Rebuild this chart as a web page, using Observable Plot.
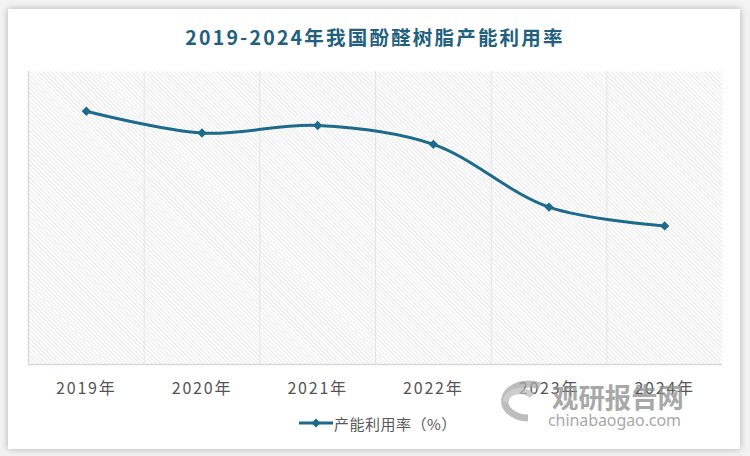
<!DOCTYPE html>
<html><head><meta charset="utf-8">
<script src="https://cdn.jsdelivr.net/npm/d3@7"></script>
<script src="https://cdn.jsdelivr.net/npm/@observablehq/plot@0.6"></script>
<style>
body{margin:0;background:#fff;}
#wrap{position:relative;width:750px;height:456px;overflow:hidden;background:#f3f3f3;font-family:"Noto Sans CJK SC","Noto Sans",sans-serif;}
#card{position:absolute;left:8px;top:9px;width:732px;height:440px;background:#fff;box-shadow:0 0 7px rgba(0,0,0,0.28);}
#title{position:absolute;left:0;top:22px;width:750px;text-align:center;font-size:19.5px;font-weight:bold;color:#22607e;letter-spacing:2.2px;line-height:30px;}
#chart{position:absolute;left:0;top:0;}
#legend{position:absolute;left:298px;top:412px;height:22px;display:flex;align-items:center;font-size:15px;color:#595959;letter-spacing:0.5px;}
#wm{position:absolute;left:0;top:0;pointer-events:none;}
</style></head>
<body>
<div id="wrap">
  <div id="card"></div>
  <div id="chart"></div>
  <div id="title">2019-2024年我国酚醛树脂产能利用率</div>
  <div id="legend"></div>
  <svg id="wm" width="750" height="456"></svg>
</div>
<script>
const years = ["2019年","2020年","2021年","2022年","2023年","2024年"];
const rates = [60.5, 55.3, 57.1, 52.6, 37.6, 33.1];
const seriesName = "产能利用率（%）";
const lineColor = "#1c6a8c";

const data = years.map((y, i) => ({pos: i + 0.5, year: y, value: rates[i]}));

const plot = Plot.plot({
  width: 750, height: 410,
  marginLeft: 28, marginRight: 28, marginTop: 71, marginBottom: 46,
  style: {background: "transparent", fontFamily: "'Noto Sans CJK SC','Noto Sans',sans-serif", fontSize: "16px", overflow: "visible"},
  x: {domain: [0, years.length], axis: null, label: null},
  y: {domain: [0, 70], axis: null, label: null},
  marks: [
    Plot.frame({fill: "url(#hatch)", stroke: null}),
    Plot.ruleX(d3.range(1, years.length), {stroke: "#e3e3e3", strokeWidth: 1}),
    Plot.ruleX([0], {stroke: "#d9d9d9", strokeWidth: 1.5}),
    Plot.ruleY([0], {stroke: "#d9d9d9", strokeWidth: 1.5}),
    Plot.axisX(data.map(d => d.pos), {tickSize: 0, tickPadding: 18, label: null, tickFormat: d => years[Math.round(d - 0.5)], fill: "#555555", fontSize: 16}),
    Plot.line(data, {x: "pos", y: "value", stroke: lineColor, strokeWidth: 3, curve: "catmull-rom"}),
    Plot.dot(data, {x: "pos", y: "value", symbol: "diamond2", r: 4.2, fill: lineColor, stroke: "none"})
  ]
});
d3.select(plot).insert("defs", ":first-child").html(
  '<pattern id="hatch" patternUnits="userSpaceOnUse" width="3" height="3" patternTransform="rotate(-45)">' +
  '<rect width="3" height="3" fill="#ffffff"/><line x1="0" y1="0" x2="0" y2="3" stroke="#d5d5d5" stroke-width="1.1"/></pattern>');
d3.select(plot).selectAll("text").attr("letter-spacing", "1.8");
document.getElementById("chart").appendChild(plot);

// legend
const lg = d3.select("#legend");
const ls = lg.append("svg").attr("width", 36).attr("height", 22);
ls.append("line").attr("x1", 1).attr("x2", 35).attr("y1", 11).attr("y2", 11).attr("stroke", lineColor).attr("stroke-width", 3);
ls.append("path").attr("d", "M18,6.5L22.5,11L18,15.5L13.5,11Z").attr("fill", lineColor);
lg.append("span").text(seriesName);

// watermark
const wm = d3.select("#wm").append("g").attr("opacity", 0.75);
wm.append("path").attr("d", "M540,386 A24,17 0 1 0 528,418").attr("fill", "none").attr("stroke", "#a8a8a8").attr("stroke-width", 7);
wm.append("path").attr("d", "M506,402 A14,10 0 0 1 532,396").attr("fill", "none").attr("stroke", "#bdbdbd").attr("stroke-width", 6);
wm.append("text").attr("x", 552).attr("y", 408).attr("font-size", 27).attr("font-weight", "bold").attr("fill", "#8c8c8c")
  .attr("textLength", 132).attr("lengthAdjust", "spacingAndGlyphs").text("观研报告网");
wm.append("text").attr("x", 548).attr("y", 426).attr("font-size", 16).attr("fill", "#8c8c8c")
  .attr("font-family", "'Noto Sans',sans-serif").attr("textLength", 133).text("chinabaogao.com");
</script>
</body></html>
